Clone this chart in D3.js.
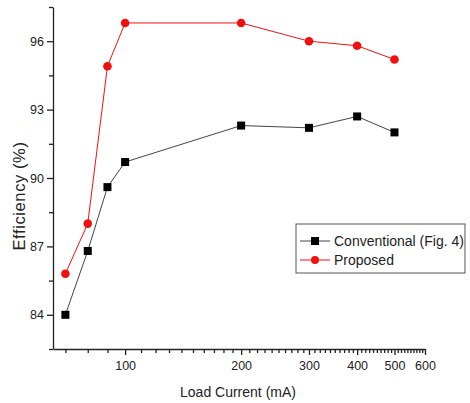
<!DOCTYPE html>
<html>
<head>
<meta charset="utf-8">
<script src="https://cdn.jsdelivr.net/npm/d3@7"></script>
<style>
body{margin:0;background:#fff;}
svg text{font-family:"Liberation Sans",Arial,sans-serif;fill:#222;}
.axis path,.axis line{stroke:#222;}
</style>
</head>
<body>
<div id="chart"></div>
<script>
// data
let loadCurrent=[70,80,90,100,200,300,400,500];
let conventional=[84.0,86.8,89.6,90.7,92.3,92.2,92.7,92.0];
let proposed=[85.8,88.0,94.9,96.8,96.8,96.0,95.8,95.2];
let xTicks=[100,200,300,400,500,600];
let yTicks=[84,87,90,93,96];
let seriesNames=[`Conventional (Fig. 4)`,`Proposed`];

let W=470,H=403;
let margin={left:53,top:7,right:45,bottom:54};

let svg=d3.select(`#chart`).append(`svg`)
    .attr(`width`,W)
    .attr(`height`,H);

let width=W-margin.left-margin.right;
let height=H-margin.top-margin.bottom;

let graph=svg.append(`g`)
    .attr(`transform`,`translate(`+margin.left+`,`+margin.top+`)`);

let x=d3.scaleLog().domain([65,600]).range([0,width]);
let y=d3.scaleLinear().domain([82.5,97.5]).range([height,0]);

// minor ticks x (every 10)
let xMinor=d3.range(70,601,10).filter(v=>!xTicks.includes(v));
graph.append(`g`)
    .attr(`class`,`x axis minor`)
    .attr(`transform`,`translate(0,`+height+`)`)
    .call(d3.axisBottom(x).tickValues(xMinor).tickSize(4).tickFormat(()=>``))
    .call(g=>g.select(`.domain`).remove());

graph.append(`g`)
    .attr(`class`,`x axis`)
    .attr(`transform`,`translate(0,`+height+`)`)
    .call(d3.axisBottom(x).tickValues(xTicks).tickSize(6).tickSizeOuter(0).tickFormat(d3.format(`d`)))
    .selectAll(`text`)
        .attr(`y`,12)
        .style(`font-size`,`12.5px`);

// minor ticks y
let yMinor=d3.range(82.5,97.6,3);
graph.append(`g`)
    .attr(`class`,`y axis minor`)
    .call(d3.axisLeft(y).tickValues(yMinor).tickSize(4).tickFormat(()=>``))
    .call(g=>g.select(`.domain`).remove());

graph.append(`g`)
    .attr(`class`,`y axis`)
    .call(d3.axisLeft(y).tickValues(yTicks).tickSize(6).tickSizeOuter(0))
    .selectAll(`text`)
        .attr(`x`,-9)
        .style(`font-size`,`12.5px`);

svg.selectAll(`.axis path, .axis line`).attr(`stroke-width`,1.3);

// axis titles
svg.append(`text`)
    .attr(`x`,238)
    .attr(`y`,397)
    .attr(`text-anchor`,`middle`)
    .style(`font-size`,`14px`)
    .text(`Load Current (mA)`);

svg.append(`text`)
    .attr(`transform`,`translate(25,196) rotate(-90)`)
    .attr(`text-anchor`,`middle`)
    .style(`font-size`,`16.5px`)
    .style(`letter-spacing`,`0.6px`)
    .text(`Efficiency (%)`);

// lines
let valueline=d3.line()
    .x((d,i)=>x(loadCurrent[i]))
    .y(d=>y(d));

graph.append(`path`)
    .datum(conventional)
    .attr(`fill`,`none`)
    .attr(`stroke`,`#444`)
    .attr(`stroke-width`,1)
    .attr(`d`,valueline);

graph.append(`path`)
    .datum(proposed)
    .attr(`fill`,`none`)
    .attr(`stroke`,`#f01010`)
    .attr(`stroke-width`,1)
    .attr(`d`,valueline);

// markers
graph.append(`g`)
    .selectAll(`rect`)
    .data(conventional)
    .enter()
    .append(`rect`)
    .attr(`x`,(d,i)=>x(loadCurrent[i])-4)
    .attr(`y`,d=>y(d)-4)
    .attr(`width`,8)
    .attr(`height`,8)
    .attr(`fill`,`#000`);

graph.append(`g`)
    .selectAll(`circle`)
    .data(proposed)
    .enter()
    .append(`circle`)
    .attr(`cx`,(d,i)=>x(loadCurrent[i]))
    .attr(`cy`,d=>y(d))
    .attr(`r`,4.3)
    .attr(`fill`,`#f01010`);

// legend
let legend=svg.append(`g`).attr(`transform`,`translate(296,224)`);
legend.append(`rect`)
    .attr(`width`,169)
    .attr(`height`,49)
    .attr(`fill`,`#fff`)
    .attr(`stroke`,`#555`)
    .attr(`stroke-width`,1);

seriesNames.forEach((name,i)=>{
    let cy=17+i*19;
    let col=i==0?`#444`:`#f01010`;
    legend.append(`line`)
        .attr(`x1`,4).attr(`x2`,34)
        .attr(`y1`,cy).attr(`y2`,cy)
        .attr(`stroke`,col);
    if(i==0){
        legend.append(`rect`)
            .attr(`x`,15).attr(`y`,cy-4)
            .attr(`width`,8).attr(`height`,8)
            .attr(`fill`,`#000`);
    }else{
        legend.append(`circle`)
            .attr(`cx`,19).attr(`cy`,cy)
            .attr(`r`,4)
            .attr(`fill`,`#f01010`);
    }
    legend.append(`text`)
        .attr(`x`,38)
        .attr(`y`,cy+5)
        .style(`font-size`,`14px`)
        .text(name);
});
</script>
</body>
</html>
